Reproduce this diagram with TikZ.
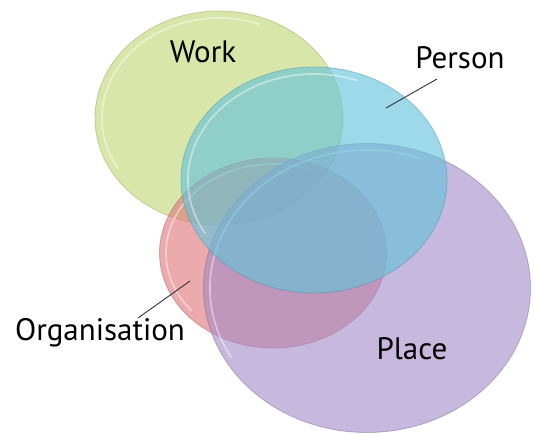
\documentclass[tikz,border=0pt]{standalone}
\usepackage{fontspec}
\setmainfont{PT Sans}
\usetikzlibrary{shapes.geometric}

\definecolor{workgreen}{RGB}{192,214,112}
\definecolor{orgred}{RGB}{222,115,118}
\definecolor{placeviolet}{RGB}{162,136,198}
\definecolor{personcyan}{RGB}{100,195,218}

\begin{document}
\begin{tikzpicture}[
    x=1pt, y=-1pt,
    lbl/.style={font=\fontsize{31}{36}\selectfont, inner sep=0pt},
    bubble/.style={ellipse, inner sep=0pt, fill=#1, fill opacity=0.6,
                   draw=#1!75!black, draw opacity=0.45, line width=0.8pt},
    gloss/.style={draw=white, draw opacity=0.45, line width=1.6pt, line cap=round},
    leader/.style={draw=black!80, line width=0.9pt},
  ]
    \useasboundingbox (0,0) rectangle (535,434);

    % the four sets, back to front, each with a light rim on its upper left
    \node[bubble=workgreen, minimum width=248pt, minimum height=214pt] (work) at (219,118) {};
    \draw[gloss] (work.center) ++(150:117 and 100) arc[start angle=150, end angle=290, x radius=117, y radius=100];

    \node[bubble=orgred, minimum width=227pt, minimum height=190pt] (org) at (273,253) {};
    \draw[gloss] (org.center) ++(140:107 and 89) arc[start angle=140, end angle=290, x radius=107, y radius=89];

    \node[bubble=placeviolet, minimum width=327pt, minimum height=289pt] (place) at (367,288) {};
    \draw[gloss] (place.center) ++(150:157 and 138) arc[start angle=150, end angle=290, x radius=157, y radius=138];

    \node[bubble=personcyan, minimum width=266pt, minimum height=226pt, fill opacity=0.63] (person) at (314,180) {};
    \draw[gloss] (person.center) ++(150:126 and 106) arc[start angle=150, end angle=290, x radius=126, y radius=106];

    % labels
    \node[lbl] (worklbl)   at (203,52)  {Work};
    \node[lbl] (personlbl) at (460,58)  {Person};
    \node[lbl] (orglbl)    at (100,333) {Organisation};
    \node[lbl] (placelbl)  at (412,349) {Place};

    \coordinate (persontip) at (386,108);
    \coordinate (orgtip)    at (190,281);
    \draw[leader] (437,79) -- (persontip);
    \draw[leader] (138,318) -- (orgtip);
\end{tikzpicture}
\end{document}
